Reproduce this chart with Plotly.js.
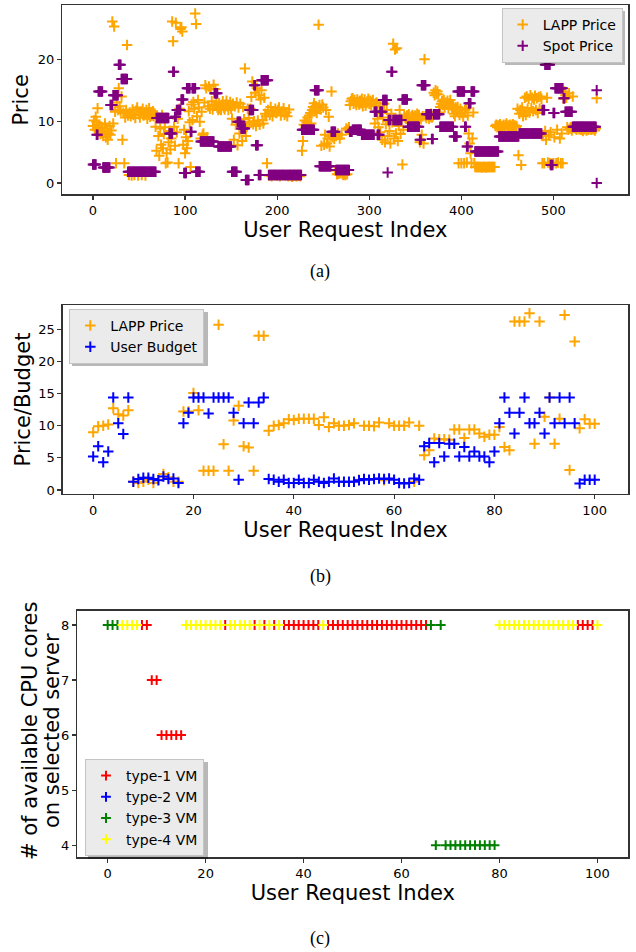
<!DOCTYPE html>
<html><head><meta charset="utf-8">
<script src="https://cdn.plot.ly/plotly-3.0.1.min.js"></script>
<style>html,body{margin:0;padding:0;background:#fff;}#chart{width:636px;height:952px;}</style>
</head><body><div id="chart"></div>
<script>
// ---------- (a) LAPP price vs spot price, per user request index ----------
const lappPriceA = [
9.2,10.1,8.6,10.7,9.8,12.1,8.9,9.4,7.9,8.4,
9.0,7.6,8.2,9.6,7.4,8.8,7.0,8.0,9.2,7.8,
8.5,26.1,9.6,25.3,11.5,3.2,13.0,11.8,15.3,12.4,
11.6,14.0,7.0,11.3,3.2,10.6,11.8,22.3,10.9,1.3,
11.4,10.8,1.2,11.9,11.0,1.3,10.5,11.7,12.2,1.2,
11.1,10.6,11.5,1.3,12.0,10.9,11.3,1.2,11.8,10.4,
11.2,12.1,10.7,11.4,10.9,11.6,10.8,11.2,9.1,5.2,
10.6,7.6,4.4,8.8,6.2,11.0,5.6,7.9,9.0,3.2,
4.8,3.3,6.6,8.4,5.4,7.2,26.1,22.9,9.1,6.0,
25.9,8.2,10.4,3.2,12.0,24.9,25.2,24.5,6.2,8.6,
4.8,7.4,5.6,6.8,11.6,9.8,2.6,12.7,10.2,13.1,
12.0,27.4,25.7,10.8,13.4,12.2,9.9,7.2,11.5,7.8,
8.0,13.0,15.8,15.3,7.4,12.4,15.6,12.0,15.1,13.2,
11.9,15.9,12.6,15.2,13.0,12.2,11.8,12.9,12.0,11.8,
12.6,13.2,12.2,11.9,12.7,13.3,12.4,11.8,12.5,13.1,
12.0,10.4,12.8,7.0,12.4,9.4,13.0,6.1,12.2,8.0,
12.8,9.6,6.8,12.3,10.3,18.5,7.6,9.1,12.0,10.5,
9.8,12.0,13.9,16.4,9.5,10.0,14.6,9.2,15.3,10.1,
14.2,9.4,13.5,15.0,10.2,9.6,13.8,11.2,10.8,3.2,
11.8,1.2,11.0,12.3,1.1,10.8,11.6,1.3,12.0,11.3,
1.2,11.8,12.2,1.1,10.9,11.5,1.3,12.1,11.0,1.2,
11.4,10.8,1.1,11.9,1.3,1.2,1.0,1.1,1.3,1.2,
1.2,1.1,1.3,1.2,1.2,1.1,1.3,5.2,6.8,9.4,
10.1,9.0,9.8,10.6,9.3,10.9,11.3,9.6,11.8,12.3,
12.9,11.6,12.4,11.3,12.0,25.6,12.6,11.9,6.0,12.7,
12.2,6.2,7.8,11.8,6.4,7.2,10.7,5.9,7.6,14.8,
7.4,8.0,7.1,2.0,7.6,1.4,8.0,1.5,7.2,1.6,
7.8,1.4,1.3,1.5,1.3,8.8,1.4,8.6,9.0,12.6,
13.2,13.6,13.7,12.8,13.4,13.0,12.6,13.5,13.1,12.7,
13.3,12.9,13.6,12.4,13.0,13.5,12.5,12.9,13.2,13.6,
12.8,13.3,12.6,13.1,13.4,12.5,9.6,12.9,13.0,10.4,
9.0,12.4,8.2,11.3,7.0,10.6,12.8,6.6,9.5,11.8,
7.6,10.0,8.4,6.4,11.2,9.8,22.5,7.2,21.6,8.0,
21.8,6.8,9.2,11.8,7.9,10.4,3.0,8.6,10.8,10.6,
10.4,10.9,10.2,11.1,10.6,10.3,10.8,11.0,10.5,10.7,
10.9,10.2,11.2,10.6,11.0,6.6,10.3,7.8,10.8,6.4,
20.0,10.8,10.5,11.0,10.9,10.4,10.7,11.2,10.6,10.8,
14.6,14.2,15.0,14.4,14.8,14.3,11.4,12.3,12.8,13.2,
12.6,13.4,12.2,13.0,12.7,13.3,12.1,12.9,13.4,12.5,
12.0,12.6,11.2,10.8,12.2,11.6,12.3,3.2,11.0,12.0,
3.2,11.3,10.7,3.2,11.8,12.1,3.3,10.9,8.0,6.4,
4.8,3.2,7.2,11.4,3.2,2.6,2.6,2.6,2.6,2.6,
2.6,2.6,2.5,2.6,2.6,2.6,2.6,2.5,2.6,2.6,
2.6,2.6,2.6,2.6,2.6,2.6,2.6,9.2,9.4,9.0,
9.3,8.9,9.5,9.1,9.2,8.8,9.4,9.0,9.3,9.6,
9.1,9.3,8.9,9.4,9.2,9.0,9.5,9.1,9.3,9.0,
9.2,12.0,4.5,11.2,11.8,2.9,12.2,10.8,11.5,13.8,
11.0,14.0,12.0,13.6,11.4,14.2,12.1,13.8,11.6,13.5,
14.1,11.8,13.7,11.3,13.9,12.0,14.0,13.6,3.2,7.6,
3.2,8.4,7.0,13.8,3.3,7.8,3.2,8.2,3.1,20.6,
3.2,7.4,20.2,3.2,8.6,3.3,20.5,7.2,3.2,8.0,
3.2,13.6,14.8,14.2,13.8,9.0,8.6,14.5,8.8,9.0,
8.5,14.0,8.9,9.0,8.8,8.6,8.9,9.1,8.7,8.8,
8.6,8.9,8.4,8.8,8.7,9.0,8.5,8.8,8.6,8.9,
8.8,8.6,9.0,8.7,8.9,8.5,8.8,13.7
];
const spotPriceA = [
3.0,3.0,3.0,3.0,7.8,7.8,14.8,14.8,14.8,14.8,
14.8,2.5,2.5,2.5,2.5,2.5,2.5,2.5,2.5,12.6,
12.6,12.6,14.2,14.2,14.2,14.2,14.2,14.2,19.1,19.1,
19.1,16.8,16.8,16.8,16.8,16.8,16.8,16.8,1.8,1.8,
1.8,1.8,1.8,1.8,1.8,1.8,1.8,1.8,1.8,1.8,
1.8,1.8,1.8,1.8,1.8,1.8,1.8,1.8,1.8,1.8,
1.8,1.8,1.8,1.8,1.8,1.8,1.8,1.8,1.8,10.5,
10.5,10.5,10.5,10.5,10.5,10.5,10.5,10.5,10.5,10.5,
10.5,10.5,10.5,8.0,8.0,8.0,8.0,18.0,18.0,10.7,
10.7,11.8,11.8,11.8,11.8,11.8,13.5,13.5,13.5,1.6,
1.6,1.6,15.3,15.3,15.3,15.3,8.3,8.3,15.3,15.3,
15.3,15.3,1.8,1.8,1.8,1.8,1.8,6.7,6.7,6.7,
6.7,6.7,6.7,6.7,6.7,6.7,6.7,6.7,6.7,6.7,
6.7,6.7,14.5,14.5,14.5,14.5,5.9,5.9,5.9,5.9,
5.9,5.9,5.9,5.9,5.9,5.9,5.9,5.9,5.9,5.9,
5.9,1.8,1.8,1.8,1.8,1.8,1.8,9.9,9.9,9.9,
9.9,8.8,8.8,8.8,8.8,8.8,0.5,0.5,0.5,0.5,
11.8,11.8,11.8,11.8,11.8,15.8,15.8,6.1,6.1,6.1,
1.3,1.3,1.3,16.6,16.6,16.6,16.6,16.6,16.6,16.6,
16.6,1.3,1.3,1.3,1.3,1.3,1.3,1.3,1.3,1.3,
1.3,1.3,1.3,1.3,1.3,1.3,1.3,1.3,1.3,1.3,
1.3,1.3,1.3,1.3,1.3,1.3,1.3,1.3,1.3,1.3,
1.3,1.3,1.3,1.3,1.3,1.3,1.3,8.6,8.6,8.6,
8.6,8.6,8.6,8.6,8.6,8.6,8.6,8.6,8.6,8.6,
8.6,15.0,15.0,15.0,15.0,15.0,2.7,2.7,2.7,2.7,
2.7,2.7,2.7,2.7,2.7,2.7,2.7,2.7,2.7,8.3,
8.3,8.3,8.3,8.3,2.1,2.1,2.1,2.1,2.1,2.1,
2.1,2.1,2.1,2.1,2.1,2.1,2.1,2.1,2.1,8.3,
8.3,8.3,8.6,8.6,8.6,8.6,8.6,8.6,8.6,8.6,
8.6,8.6,7.8,7.8,7.8,7.8,7.8,7.8,7.8,7.8,
7.8,7.8,7.8,7.8,7.8,7.8,11.5,11.5,11.5,7.8,
7.8,7.8,11.5,11.5,11.5,13.4,13.4,13.4,13.4,13.4,
1.7,10.2,10.2,10.2,18.0,18.0,10.2,10.2,10.2,10.2,
10.2,10.2,10.2,10.2,10.2,10.2,13.5,13.5,13.5,13.5,
13.5,13.5,9.1,9.1,9.1,9.1,9.1,9.1,9.1,9.1,
9.1,9.1,9.1,9.1,9.1,7.0,7.0,15.8,15.8,15.8,
15.8,15.8,11.1,11.1,11.1,11.1,11.1,11.1,7.1,7.1,
11.1,11.1,11.1,11.1,11.1,11.1,11.1,9.1,9.1,9.1,
9.1,9.1,9.1,9.1,9.1,9.1,9.1,9.1,9.1,9.1,
9.1,9.1,7.5,7.5,7.5,7.5,14.8,14.8,14.8,14.8,
14.8,14.8,14.8,14.8,9.1,9.1,5.9,5.9,12.9,12.9,
12.9,14.8,14.8,14.8,14.8,5.1,5.1,5.1,5.1,5.1,
5.1,5.1,5.1,5.1,5.1,5.1,5.1,5.1,5.1,5.1,
5.1,5.1,5.1,5.1,5.1,5.1,5.1,5.1,5.1,5.1,
5.1,7.5,7.5,7.5,7.5,7.5,7.5,7.5,7.5,7.5,
7.5,7.5,7.5,7.5,7.5,7.5,7.5,7.5,7.5,7.5,
7.5,7.5,7.5,8.0,8.0,8.0,8.0,8.0,8.0,8.0,
8.0,8.0,8.0,8.0,8.0,8.0,8.0,8.0,8.0,8.0,
8.0,8.0,8.0,8.0,8.0,8.0,8.0,8.0,11.8,11.8,
11.8,19.1,19.1,19.1,19.1,19.1,19.1,2.9,2.9,2.9,
11.3,11.3,15.3,15.3,15.3,15.3,15.3,15.3,15.3,15.3,
15.3,13.7,13.7,11.5,11.5,11.5,11.5,11.5,11.5,11.5,
11.5,9.1,9.1,9.1,9.1,9.1,9.1,9.1,9.1,9.1,
9.1,9.1,9.1,9.1,9.1,9.1,9.1,9.1,9.1,9.1,
9.1,9.1,9.1,9.1,9.1,9.1,9.1,15.0
];
// a second spot price recorded at the last request index
const spotExtraIndexA = [547];
const spotExtraPriceA = [0.0];

// ---------- (b) LAPP price vs user budget, first 101 requests ----------
const lappPriceB = [
9.0,9.9,10.0,10.2,12.7,11.8,11.6,12.4,1.3,1.1,
1.3,1.6,1.1,1.6,2.5,2.0,1.3,1.3,12.2,12.2,
15.1,12.4,3.0,3.0,3.0,25.7,7.1,3.0,10.8,13.1,
6.8,6.6,3.0,24.0,24.0,9.2,10.0,10.1,10.4,11.0,
10.9,11.1,11.1,11.1,11.1,10.1,11.3,9.8,10.4,10.0,
10.0,10.1,10.4,1.6,10.0,10.0,9.9,10.5,1.5,10.4,
10.0,10.0,10.0,10.5,1.3,10.0,5.4,6.2,8.0,7.9,
7.9,7.8,9.4,9.4,8.1,9.4,9.4,8.8,8.3,8.6,
8.6,9.8,6.7,6.2,26.2,26.2,26.2,27.5,7.2,26.2,
11.4,14.4,7.2,11.1,27.2,3.1,23.1,9.6,11.0,10.3,
10.3
];
const userBudgetB = [
5.2,6.8,4.3,6.0,14.4,10.4,8.7,14.4,1.3,1.7,
1.9,1.9,1.7,1.5,2.1,1.7,1.8,1.1,10.4,12.0,
14.4,14.4,14.4,11.9,14.4,14.4,14.4,14.4,12.0,1.6,
10.4,13.6,10.4,13.6,14.4,1.7,1.6,1.3,1.6,1.1,
1.1,1.6,1.1,1.1,1.6,1.3,1.1,1.3,1.8,1.3,
1.3,1.3,1.3,1.5,1.7,1.6,1.7,1.8,1.7,1.8,
1.6,1.1,1.0,1.1,1.8,1.6,6.8,7.3,4.3,7.3,
5.2,7.2,7.2,5.2,6.7,5.2,6.0,5.2,5.2,4.3,
6.0,10.4,14.4,12.0,8.8,12.0,14.4,10.4,10.4,12.0,
8.8,14.4,10.4,14.4,10.4,14.4,10.4,1.0,1.6,1.6,
1.6
];

// ---------- (c) available CPU cores on selected server, by VM type ----------
const cpuCoresC = [
8,8,8,8,8,8,8,8,8,7,
7,6,6,6,6,6,8,8,8,8,
8,8,8,8,8,8,8,8,8,8,
8,8,8,8,8,8,8,8,8,8,
8,8,8,8,8,8,8,8,8,8,
8,8,8,8,8,8,8,8,8,8,
8,8,8,8,8,8,8,4,8,4,
4,4,4,4,4,4,4,4,4,4,
8,8,8,8,8,8,8,8,8,8,
8,8,8,8,8,8,8,8,8,8,
8
];
const vmTypeC = [
3,3,3,4,4,4,4,1,1,1,
1,1,1,1,1,1,4,4,4,4,
4,4,4,4,1,4,4,4,4,4,
1,4,1,4,1,4,1,1,1,1,
1,1,1,1,4,1,1,1,1,1,
1,1,1,1,1,1,1,1,1,1,
1,1,1,1,1,1,3,3,3,3,
3,3,3,3,3,3,3,3,3,3,
4,4,4,4,4,4,4,4,4,4,
4,4,4,4,4,4,1,1,1,1,
4
];
const vmTypeNames = ['type-1 VM','type-2 VM','type-3 VM','type-4 VM'];
const vmTypeColors = ['#ff0000','#0000ff','#008000','#ffff00'];

const tickA_x = [0,100,200,300,400,500];
const tickA_y = [0,10,20];
const tickB_x = [0,20,40,60,80,100];
const tickB_y = [0,5,10,15,20,25];
const tickC_x = [0,20,40,60,80,100];
const tickC_y = [4,5,6,7,8];

// ---------- build ----------
const FONT = 'DejaVu Sans, Verdana, sans-serif';
const SERIF = 'Liberation Serif, Times New Roman, serif';
function cross(color, size){ return {symbol:'cross-thin', size:size, color:color, line:{color:color, width:2}}; }
function idx(arr){ return arr.map((_, i) => i); }

const traces = [];
traces.push({type:'scatter', mode:'markers', name:'LAPP Price', x: idx(lappPriceA), y: lappPriceA,
  marker: cross('#ffa500', 7.5), xaxis:'x', yaxis:'y', legend:'legend'});
traces.push({type:'scatter', mode:'markers', name:'Spot Price',
  x: idx(spotPriceA).concat(spotExtraIndexA), y: spotPriceA.concat(spotExtraPriceA),
  marker: cross('#800080', 7.5), xaxis:'x', yaxis:'y', legend:'legend'});

traces.push({type:'scatter', mode:'markers', name:'LAPP Price', x: idx(lappPriceB), y: lappPriceB,
  marker: cross('#ffa500', 7.5), xaxis:'x2', yaxis:'y2', legend:'legend2'});
traces.push({type:'scatter', mode:'markers', name:'User Budget', x: idx(userBudgetB), y: userBudgetB,
  marker: cross('#0000ff', 7.5), xaxis:'x2', yaxis:'y2', legend:'legend2'});

for (let t = 1; t <= 4; t++) {
  const xs = [], ys = [];
  vmTypeC.forEach((v, i) => { if (v === t) { xs.push(i); ys.push(cpuCoresC[i]); } });
  if (!xs.length) { xs.push(null); ys.push(null); }
  traces.push({type:'scatter', mode:'markers', name: vmTypeNames[t-1], x: xs, y: ys,
    marker: cross(vmTypeColors[t-1], 7), xaxis:'x3', yaxis:'y3', legend:'legend3', showlegend:true});
}

function ax(extra){
  return Object.assign({showline:true, mirror:true, linecolor:'#333', linewidth:1.3,
    ticks:'outside', ticklen:4, tickwidth:1.2, tickcolor:'#333', showgrid:false, zeroline:false,
    tickfont:{family:FONT, size:13, color:'#000'}, tickmode:'array'}, extra);
}
const titleFont = {family:FONT, size:21, color:'#000'};
const W = 636, H = 952;
function xd(l, r){ return [l / W, r / W]; }
function yd(top, bottom){ return [1 - bottom / H, 1 - top / H]; }
function px(x){ return x / W; }
function py(y){ return 1 - y / H; }

const legendBase = {bgcolor:'#ebebeb', bordercolor:'#c4c4c4', borderwidth:1,
  font:{family:FONT, size:14, color:'#000'}, tracegroupgap:0, itemwidth:30};

function shadow(l, t, r, b){
  return {type:'rect', xref:'paper', yref:'paper', x0:px(l+3), x1:px(r+3), y0:py(b+3), y1:py(t+3),
    fillcolor:'rgba(0,0,0,0.28)', line:{width:0}, layer:'above'};
}

const layout = {
  width: W, height: H, margin:{l:0, r:0, t:0, b:0},
  paper_bgcolor:'#fff', plot_bgcolor:'#fff', showlegend:true,
  xaxis: ax({domain: xd(62.3, 628.3), range:[-33.3, 581.3], tickvals: tickA_x, anchor:'y',
    title:{text:'User Request Index', font:titleFont, standoff:0}}),
  yaxis: ax({domain: yd(5.3, 194.3), range:[-1.83, 28.73], tickvals: tickA_y, anchor:'x',
    title:{text:'Price', font:titleFont, standoff:3}}),
  xaxis2: ax({domain: xd(62.7, 628.3), range:[-6.08, 106.7], tickvals: tickB_x, anchor:'y2',
    title:{text:'User Request Index', font:titleFont, standoff:0}}),
  yaxis2: ax({domain: yd(305, 494), range:[-0.62, 28.77], tickvals: tickB_y, anchor:'x2',
    title:{text:'Price/Budget', font:titleFont, standoff:2}}),
  xaxis3: ax({domain: xd(77.3, 628.3), range:[-6.2, 106.3], tickvals: tickC_x, anchor:'y3',
    title:{text:'User Request Index', font:titleFont, standoff:0}}),
  yaxis3: ax({domain: yd(610.7, 857.3), range:[3.78, 8.26], tickvals: tickC_y, anchor:'x3'}),
  legend: Object.assign({}, legendBase, {x: px(622.7), xanchor:'right', y: py(8), yanchor:'top'}),
  legend2: Object.assign({}, legendBase, {x: px(69.3), xanchor:'left', y: py(309), yanchor:'top'}),
  legend3: Object.assign({}, legendBase, {x: px(85), xanchor:'left', y: py(759), yanchor:'top'}),
  shapes: [shadow(502, 8, 622, 62), shadow(69, 309, 205, 363), shadow(85, 759, 205, 856)],
  annotations: [
    // y-axis title of panel (c), two lines
    {text:'# of available CPU cores', x: px(30), y: py(731), xref:'paper', yref:'paper', showarrow:false,
      textangle:-90, xanchor:'center', yanchor:'middle', font:titleFont},
    {text:'on selected server', x: px(52), y: py(731), xref:'paper', yref:'paper', showarrow:false,
      textangle:-90, xanchor:'center', yanchor:'middle', font:titleFont},
    {text:'(a)', x: px(320), y: py(271), xref:'paper', yref:'paper', showarrow:false,
      xanchor:'center', yanchor:'middle', font:{family:SERIF, size:18, color:'#000'}},
    {text:'(b)', x: px(320), y: py(576), xref:'paper', yref:'paper', showarrow:false,
      xanchor:'center', yanchor:'middle', font:{family:SERIF, size:18, color:'#000'}},
    {text:'(c)', x: px(320), y: py(938), xref:'paper', yref:'paper', showarrow:false,
      xanchor:'center', yanchor:'middle', font:{family:SERIF, size:18, color:'#000'}}
  ]
};

Plotly.newPlot('chart', traces, layout, {displayModeBar:false, staticPlot:true});
</script></body></html>
